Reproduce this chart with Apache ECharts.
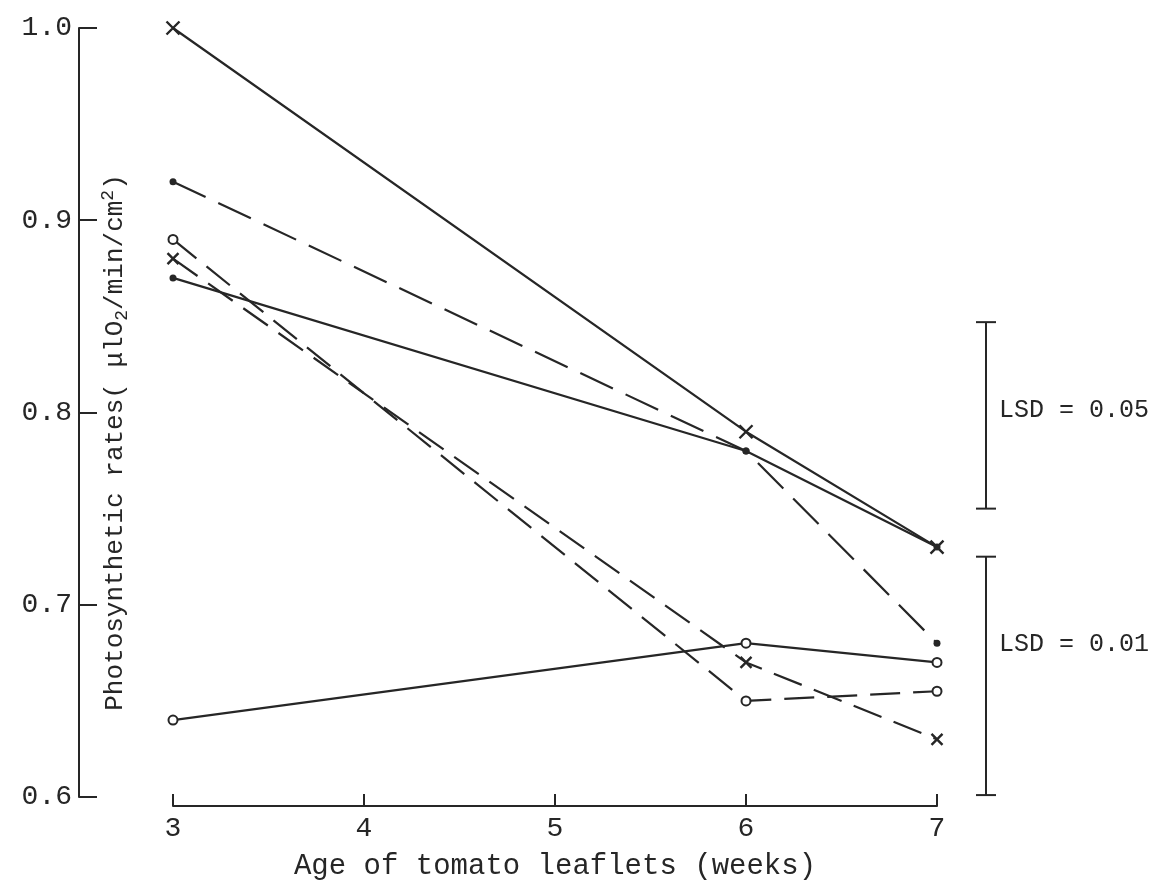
<!DOCTYPE html>
<html>
<head>
<meta charset="utf-8">
<title>Photosynthetic rates of tomato leaflets</title>
<script src="https://cdn.jsdelivr.net/npm/echarts@6/dist/echarts.min.js"></script>
<style>
  html, body { margin: 0; padding: 0; background: #ffffff; }
  #chart { width: 1165px; height: 895px; }
</style>
</head>
<body>
<div id="chart"></div>
<script>
// Leaflet age (weeks) at which rates were measured
const weeks = [3, 6, 7];
const xTickValues = [3, 4, 5, 6, 7];

// Photosynthetic rates, one array per treatment line
const solidCross   = [1.00, 0.79, 0.73];
const dashDotDot   = [0.92, 0.78, 0.68];
const solidDot     = [0.87, 0.78, 0.73];
const solidOpen    = [0.64, 0.68, 0.67];
const dashedOpen   = [0.89, 0.65, 0.655];
const dashedCross  = [0.88, 0.67, 0.63];

// Least significant difference bars (low end, high end)
const lsdLabels = ['LSD = 0.05', 'LSD = 0.01'];
const lsdLow    = [0.750, 0.601];
const lsdHigh   = [0.847, 0.725];

const INK = '#262626';
const FONT = "'Liberation Mono', 'DejaVu Sans Mono', monospace";
const CROSS = 'path://M0,0L10,10M10,0L0,10';

function pairs(vals) { return weeks.map((w, i) => [w, vals[i]]); }

function lineSeries(name, vals, dash, symbol, size, kind) {
  const item = kind === 'open'
    ? { color: '#ffffff', borderColor: INK, borderWidth: 2 }
    : kind === 'cross'
      ? { color: 'rgba(0,0,0,0)', borderColor: INK, borderWidth: 2.4 }
      : { color: INK, borderColor: INK, borderWidth: 0 };
  return {
    name: name,
    type: 'line',
    xAxisIndex: 0, yAxisIndex: 0,
    data: pairs(vals),
    symbol: symbol,
    symbolSize: size,
    showAllSymbol: true,
    lineStyle: { color: INK, width: 2.2, type: dash },
    itemStyle: item,
    emphasis: { disabled: true },
    silent: true,
    z: 3
  };
}

const chart = echarts.init(document.getElementById('chart'), null, { renderer: 'canvas' });

chart.setOption({
  backgroundColor: '#ffffff',
  animation: false,
  grid: [
    { left: 173, right: 228, top: 28, bottom: 98 },
    { left: 976, width: 20, top: 28, bottom: 98 }
  ],
  xAxis: [
    {
      gridIndex: 0,
      type: 'value',
      min: 3, max: 7, interval: 1,
      offset: 9,
      name: 'Age of tomato leaflets (weeks)',
      nameLocation: 'middle',
      nameGap: 46,
      nameTextStyle: { fontFamily: FONT, fontSize: 29, color: INK },
      axisLine: { show: true, lineStyle: { color: INK, width: 2 } },
      axisTick: { show: true, inside: true, length: 12, lineStyle: { color: INK, width: 2 } },
      axisLabel: { fontFamily: FONT, fontSize: 28, color: INK, margin: 9,
                   formatter: v => xTickValues.includes(v) ? String(v) : '' },
      splitLine: { show: false }
    },
    { gridIndex: 1, type: 'value', min: 0, max: 1, show: false }
  ],
  yAxis: [
    {
      gridIndex: 0,
      type: 'value',
      min: 0.6, max: 1.0, interval: 0.1,
      offset: 94,
      name: 'Photosynthetic rates( μlO{sub|2}/min/cm{sup|2})',
      nameLocation: 'middle',
      nameRotate: 90,
      nameGap: -52,
      nameTextStyle: {
        fontFamily: FONT, fontSize: 26, color: INK, lineHeight: 32,
        padding: [0, 60, 0, 0],
        rich: {
          sub: { fontFamily: FONT, fontSize: 18, color: INK, verticalAlign: 'bottom', lineHeight: 32, padding: [12, 0, 0, 0] },
          sup: { fontFamily: FONT, fontSize: 18, color: INK, verticalAlign: 'top', lineHeight: 32, padding: [0, 0, 12, 0] }
        }
      },
      axisLine: { show: true, lineStyle: { color: INK, width: 2 } },
      axisTick: { show: true, inside: true, length: 18, lineStyle: { color: INK, width: 2 } },
      axisLabel: { fontFamily: FONT, fontSize: 28, color: INK, margin: 7,
                   formatter: v => v.toFixed(1) },
      splitLine: { show: false }
    },
    { gridIndex: 1, type: 'value', min: 0.6, max: 1.0, show: false }
  ],
  series: [
    lineSeries('solidCross',  solidCross,  'solid',   CROSS,    13, 'cross'),
    lineSeries('dashDotDot',  dashDotDot,  [36, 14],  'circle', 7,  'dot'),
    lineSeries('solidDot',    solidDot,    'solid',   'circle', 7,  'dot'),
    lineSeries('solidOpen',   solidOpen,   'solid',   'circle', 9,  'open'),
    lineSeries('dashedOpen',  dashedOpen,  [30, 13],  'circle', 9,  'open'),
    lineSeries('dashedCross', dashedCross, [30, 13],  CROSS,    11, 'cross'),
    {
      name: 'lsd',
      type: 'custom',
      xAxisIndex: 1, yAxisIndex: 1,
      silent: true,
      data: lsdLow.map((lo, i) => [0.5, lo, lsdHigh[i]]),
      renderItem: function (params, api) {
        const lo = api.coord([api.value(0), api.value(1)]);
        const hi = api.coord([api.value(0), api.value(2)]);
        const cap = 10;
        const st = { stroke: INK, lineWidth: 2 };
        return {
          type: 'group',
          children: [
            { type: 'line', shape: { x1: lo[0], y1: hi[1], x2: lo[0], y2: lo[1] }, style: st },
            { type: 'line', shape: { x1: lo[0] - cap, y1: hi[1], x2: lo[0] + cap, y2: hi[1] }, style: st },
            { type: 'line', shape: { x1: lo[0] - cap, y1: lo[1], x2: lo[0] + cap, y2: lo[1] }, style: st },
            { type: 'text', x: lo[0] + 13, y: hi[1] + 88,
              style: { text: lsdLabels[params.dataIndex], fill: INK,
                       font: "25px 'Liberation Mono', 'DejaVu Sans Mono', monospace",
                       verticalAlign: 'middle', align: 'left' } }
          ]
        };
      }
    }
  ]
});
</script>
</body>
</html>
